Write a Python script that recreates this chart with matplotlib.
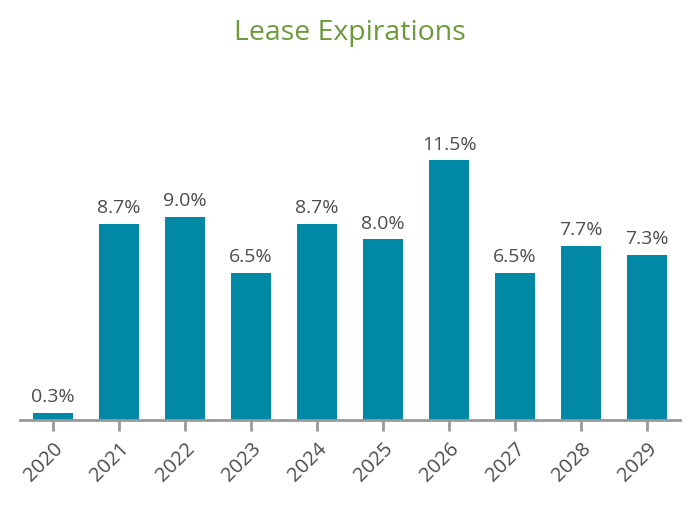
import matplotlib
matplotlib.use("Agg")
import matplotlib.pyplot as plt

# data
years = ["2020", "2021", "2022", "2023", "2024", "2025", "2026", "2027", "2028", "2029"]
pct = [0.3, 8.7, 9.0, 6.5, 8.7, 8.0, 11.5, 6.5, 7.7, 7.3]

plt.rcParams['font.family'] = ['Open Sans', 'DejaVu Sans']

fig = plt.figure(figsize=(7, 5.06), dpi=100)
ax = fig.add_axes([20/700, 85/506, 660/700, 316/506])

x = range(len(years))
bars = ax.bar(x, pct, width=0.6, color='#0088a5')
for b, v in zip(bars, pct):
    ax.text(b.get_x() + b.get_width()/2, v + 0.35, f"{v:.1f}%",
            ha='center', va='bottom', fontsize=14, color='#4d4d4d')

ax.set_xlim(-0.5, len(years) - 0.5)
ax.set_ylim(0, 14)
ax.set_xticks(list(x))
ax.set_xticklabels(years, rotation=45, ha='right', rotation_mode='anchor',
                   fontsize=14.5, color='#4d4d4d')
ax.set_yticks([])
for s in ['top', 'right', 'left']:
    ax.spines[s].set_visible(False)
ax.spines['bottom'].set_color('#999999')
ax.spines['bottom'].set_linewidth(2)
ax.tick_params(axis='x', length=8, width=2, color='#999999', pad=5)

fig.text(0.5, 1 - 33/506, "Lease Expirations", ha='center', va='center',
         fontsize=20.5, color='#6b9a3b')

fig.savefig("out.png")
